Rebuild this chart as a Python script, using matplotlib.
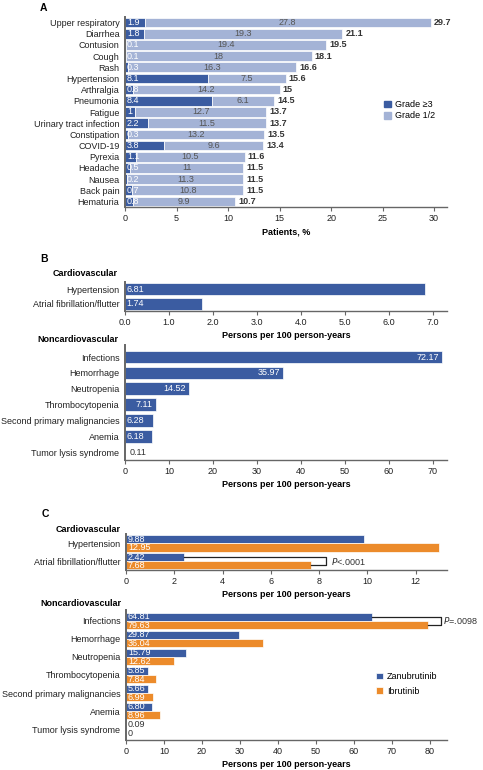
import numpy as np
import matplotlib
matplotlib.use("Agg")
import matplotlib.pyplot as plt
from matplotlib.patches import Patch

plt.rcParams['font.family'] = ['Liberation Sans', 'DejaVu Sans']
plt.rcParams['font.size'] = 6.5

# ---- data ----
# panel A
ae_names = ["Upper respiratory", "Diarrhea", "Contusion", "Cough", "Rash",
            "Hypertension", "Arthralgia", "Pneumonia", "Fatigue",
            "Urinary tract infection", "Constipation", "COVID-19", "Pyrexia",
            "Headache", "Nausea", "Back pain", "Hematuria"]
grade3 = [1.9, 1.8, 0.1, 0.1, 0.3, 8.1, 0.8, 8.4, 1, 2.2, 0.3, 3.8, 1.1, 0.5, 0.2, 0.7, 0.8]
grade12 = [27.8, 19.3, 19.4, 18, 16.3, 7.5, 14.2, 6.1, 12.7, 11.5, 13.2, 9.6, 10.5, 11, 11.3, 10.8, 9.9]
totals = [29.7, 21.1, 19.5, 18.1, 16.6, 15.6, 15, 14.5, 13.7, 13.7, 13.5, 13.4, 11.6, 11.5, 11.5, 11.5, 10.7]

# panel B
cv_names = ["Hypertension", "Atrial fibrillation/flutter"]
cv_rates = [6.81, 1.74]
ncv_names = ["Infections", "Hemorrhage", "Neutropenia", "Thrombocytopenia",
             "Second primary malignancies", "Anemia", "Tumor lysis syndrome"]
ncv_rates = [72.17, 35.97, 14.52, 7.11, 6.28, 6.18, 0.11]

# panel C
cv_zanu = [9.88, 2.42]
cv_ibru = [12.95, 7.68]
ncv_zanu = [64.81, 29.87, 15.79, 5.85, 5.66, 6.80, 0.09]
ncv_ibru = [79.63, 36.04, 12.62, 7.84, 6.99, 8.96, 0]
c_zanu_lbl = ["9.88", "2.42"]
c_ibru_lbl = ["12.95", "7.68"]
n_zanu_lbl = ["64.81", "29.87", "15.79", "5.85", "5.66", "6.80", "0.09"]
n_ibru_lbl = ["79.63", "36.04", "12.62", "7.84", "6.99", "8.96", "0"]

dark = "#3b5ca1"
light = "#a4b3d6"
orange = "#ec8b2b"
txt = "#333333"
spine_c = "#666666"

W, H = 483, 770
fig = plt.figure(figsize=(W / 100, H / 100), dpi=100)


def px_axes(left, top, right, bottom):
    return fig.add_axes([left / W, 1 - bottom / H, (right - left) / W, (bottom - top) / H])


def ftext(x, y, s, **kw):
    fig.text(x / W, 1 - y / H, s, **kw)


def style(ax):
    for s in ["top", "right"]:
        ax.spines[s].set_visible(False)
    ax.spines["left"].set_color(spine_c)
    ax.spines["left"].set_linewidth(1.4)
    ax.spines["bottom"].set_color(spine_c)
    ax.spines["bottom"].set_linewidth(1.0)
    ax.tick_params(axis="y", length=0, pad=4, labelcolor="#222222", labelsize=6.5)
    ax.tick_params(axis="x", length=3, width=0.8, color=spine_c, pad=2,
                   labelcolor="#222222", labelsize=6.5)


# ---- Panel A ----
axA = px_axes(125, 17, 447, 207)
y = np.arange(len(ae_names))
axA.barh(y, grade3, height=0.86, color=dark, edgecolor="white", linewidth=0.5)
axA.barh(y, grade12, left=grade3, height=0.86, color=light, edgecolor="white", linewidth=0.5)
for i in range(len(ae_names)):
    axA.text(0.2, y[i], str(grade3[i]), color="white", va="center", ha="left", fontsize=6.5)
    axA.text(grade3[i] + grade12[i] / 2, y[i], str(grade12[i]), color="#555555",
             va="center", ha="center", fontsize=6.5)
    axA.text(totals[i] + 0.3, y[i], str(totals[i]), color=txt, va="center", ha="left",
             fontsize=6.5, fontweight="bold")
axA.set_yticks(y)
axA.set_yticklabels(ae_names)
axA.set_ylim(len(ae_names) - 0.5, -0.5)
axA.set_xlim(0, 31.25)
axA.set_xticks(np.arange(0, 31, 5))
axA.set_xlabel("Patients, %", fontweight="bold", labelpad=3)
style(axA)
fig.legend(handles=[Patch(color=dark, label="Grade \u22653"), Patch(color=light, label="Grade 1/2")],
           loc="upper left", bbox_to_anchor=(376 / W, 1 - 92 / H), frameon=False,
           handlelength=0.8, handleheight=0.8, handletextpad=0.4, labelspacing=0.25,
           fontsize=6.5)
ftext(40, 8, "A", fontweight="bold", fontsize=7.5, va="center")

# ---- Panel B ----
ftext(40, 259, "B", fontweight="bold", fontsize=7.5, va="center")
ftext(118, 274, "Cardiovascular", fontweight="bold", ha="right", va="center")
axB1 = px_axes(125, 282, 447, 311)
yb = np.arange(len(cv_names))
axB1.barh(yb, cv_rates, height=0.82, color=dark, edgecolor="white", linewidth=0.5)
for i, v in enumerate(cv_rates):
    axB1.text(0.03, yb[i], f"{v:.2f}", color="white", va="center", ha="left")
axB1.set_yticks(yb)
axB1.set_yticklabels(cv_names)
axB1.set_ylim(1.47, -0.47)
axB1.set_xlim(0, 7.32)
axB1.set_xticks(np.arange(0, 7.1, 1.0))
axB1.set_xticklabels([f"{t:.1f}" for t in np.arange(0, 7.1, 1.0)])
axB1.set_xlabel("Persons per 100 person-years", fontweight="bold", labelpad=3)
style(axB1)

ftext(118, 340, "Noncardiovascular", fontweight="bold", ha="right", va="center")
axB2 = px_axes(125, 345, 447, 460)
yn = np.arange(len(ncv_names))
axB2.barh(yn, ncv_rates, height=0.8, color=dark, edgecolor="white", linewidth=0.5)
for i, v in enumerate(ncv_rates):
    if v >= 7:
        axB2.text(v - 0.8, yn[i], f"{v:.2f}", color="white", va="center", ha="right")
    elif v >= 1:
        axB2.text(0.3, yn[i], f"{v:.2f}", color="white", va="center", ha="left")
    else:
        axB2.text(v + 1.0, yn[i], f"{v:.2f}", color=txt, va="center", ha="left")
axB2.set_yticks(yn)
axB2.set_yticklabels(ncv_names)
axB2.set_ylim(6.5, -0.76)
axB2.set_xlim(0, 73.2)
axB2.set_xticks(np.arange(0, 71, 10))
axB2.set_xlabel("Persons per 100 person-years", fontweight="bold", labelpad=3)
style(axB2)

# ---- Panel C ----
ftext(42, 514, "C", fontweight="bold", fontsize=7.5, va="center")
ftext(121, 529, "Cardiovascular", fontweight="bold", ha="right", va="center")
axC1 = px_axes(126, 534, 447, 570)
h = 0.46
axC1.barh(yb - h / 2, cv_zanu, height=h, color=dark, edgecolor="white", linewidth=0.5)
axC1.barh(yb + h / 2, cv_ibru, height=h, color=orange, edgecolor="white", linewidth=0.5)
for i in range(len(cv_names)):
    axC1.text(0.08, yb[i] - h / 2, c_zanu_lbl[i], color="white", va="center", ha="left")
    axC1.text(0.08, yb[i] + h / 2, c_ibru_lbl[i], color="white", va="center", ha="left")
# bracket for AF
bx = 8.3
axC1.plot([cv_zanu[1], bx, bx, cv_ibru[1]], [1 - h / 2, 1 - h / 2, 1 + h / 2, 1 + h / 2],
          color="#222222", lw=0.9, clip_on=False)
axC1.text(bx + 0.2, 1, "$P$<.0001", va="center", ha="left", color=txt)
axC1.set_yticks(yb)
axC1.set_yticklabels(cv_names)
axC1.set_ylim(1.51, -0.54)
axC1.set_xlim(0, 13.3)
axC1.set_xticks(np.arange(0, 13, 2))
axC1.set_xlabel("Persons per 100 person-years", fontweight="bold", labelpad=3)
style(axC1)

ftext(121, 603, "Noncardiovascular", fontweight="bold", ha="right", va="center")
axC2 = px_axes(126, 610, 447, 740)
h2 = 0.45
axC2.barh(yn - h2 / 2, ncv_zanu, height=h2, color=dark, edgecolor="white", linewidth=0.5,
          label="Zanubrutinib")
axC2.barh(yn + h2 / 2, ncv_ibru, height=h2, color=orange, edgecolor="white", linewidth=0.5,
          label="Ibrutinib")
for i in range(len(ncv_names)):
    c1 = "white" if ncv_zanu[i] > 1 else txt
    c2 = "white" if ncv_ibru[i] > 1 else txt
    axC2.text(0.5, yn[i] - h2 / 2, n_zanu_lbl[i], color=c1, va="center", ha="left")
    axC2.text(0.5, yn[i] + h2 / 2, n_ibru_lbl[i], color=c2, va="center", ha="left")
bx2 = 82.9
axC2.plot([ncv_zanu[0], bx2, bx2, ncv_ibru[0]], [-h2 / 2, -h2 / 2, h2 / 2, h2 / 2],
          color="#222222", lw=0.9, clip_on=False)
axC2.text(bx2 + 0.6, 0, "$P$=.0098", va="center", ha="left", color=txt, clip_on=False)
axC2.set_yticks(yn)
axC2.set_yticklabels(ncv_names)
axC2.set_ylim(6.61, -0.61)
axC2.set_xlim(0, 84.5)
axC2.set_xticks(np.arange(0, 81, 10))
axC2.set_xlabel("Persons per 100 person-years", fontweight="bold", labelpad=3)
style(axC2)
axC2.legend(loc="upper left", bbox_to_anchor=((368 - 126) / 321, 1 - (664 - 610) / 130),
            frameon=False, handlelength=0.8, handleheight=0.8, handletextpad=0.4,
            labelspacing=0.6, fontsize=6.5)

fig.savefig("out.png", dpi=100)
